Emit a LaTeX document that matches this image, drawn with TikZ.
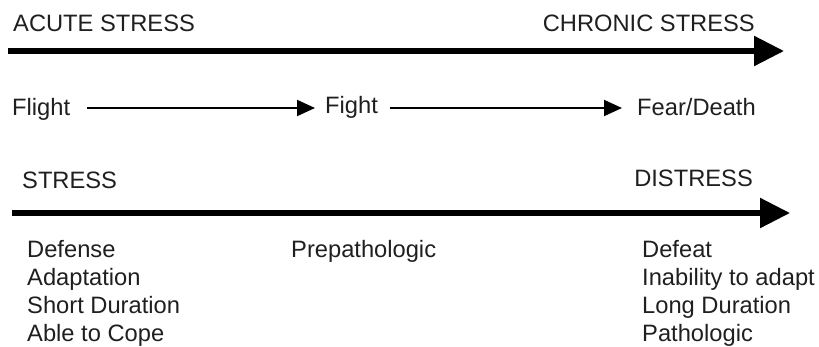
\documentclass[tikz,border=0pt]{standalone}
\usepackage{fontspec}
\setmainfont{Liberation Sans}
\usetikzlibrary{arrows.meta}
\begin{document}
\begin{tikzpicture}[x=1pt,y=-1pt,
  lbl/.style={inner sep=0pt,font=\fontsize{23.7}{27}\selectfont,text=black!88},
  bigarrow/.style={line width=5.5pt,-{Triangle[length=30pt,width=29pt]}},
  smallarrow/.style={line width=2pt,-{Triangle[length=18pt,width=16pt]}}]
\useasboundingbox (0,0) rectangle (819,346);
% top timeline
\node[lbl,anchor=base west] (acute) at (13,31) {ACUTE STRESS};
\node[lbl,anchor=base east] (chronic) at (755,31) {CHRONIC STRESS};
\coordinate (t1) at (8,51);
\coordinate (t2) at (784,51);
\draw[bigarrow] (t1) -- (t2);
% flight fight fear
\node[lbl,anchor=base west] (flight) at (12,115) {Flight};
\node[lbl,anchor=base west] (fight) at (325,113) {Fight};
\node[lbl,anchor=base west] (fear) at (637,115) {Fear/Death};
\draw[smallarrow] ([shift={(17,-7)}]flight.base east) -- ([shift={(-10,-5)}]fight.base west);
\draw[smallarrow] ([shift={(12,-5)}]fight.base east) -- ([shift={(-15,-7)}]fear.base west);
% bottom timeline
\node[lbl,anchor=base west] (stress) at (22,188) {STRESS};
\node[lbl,anchor=base east] (distress) at (753,186) {DISTRESS};
\coordinate (b1) at (12,213);
\coordinate (b2) at (790,213);
\draw[bigarrow] (b1) -- (b2);
\node[lbl,anchor=north west,align=left,font=\fontsize{23.7}{28}\selectfont] (left) at (27,240) {Defense\\Adaptation\\Short Duration\\Able to Cope};
\node[lbl,anchor=base west] (pre) at (291,257) {Prepathologic};
\node[lbl,anchor=north west,align=left,font=\fontsize{23.7}{28}\selectfont] (right) at (642,240) {Defeat\\Inability to adapt\\Long Duration\\Pathologic};
\end{tikzpicture}
\end{document}
